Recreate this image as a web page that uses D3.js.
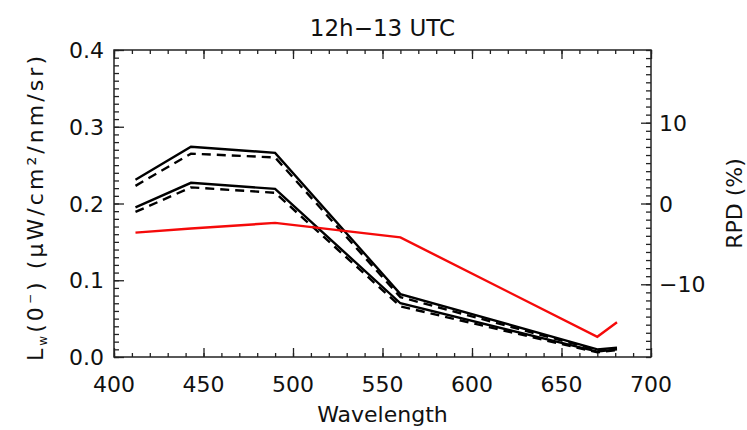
<!DOCTYPE html>
<html>
<head>
<meta charset="utf-8">
<script src="https://cdn.jsdelivr.net/npm/d3@7"></script>
<style>
  body { margin: 0; background: #fff; }
  text { font-family: "DejaVu Sans", sans-serif; fill: #111; }
</style>
</head>
<body>
<div id="chart"></div>
<script>
// wavelengths (nm) and the four radiance spectra
const wavelengths = [412, 443, 490, 560, 670, 681];
const solidUpper = [0.231, 0.274, 0.266, 0.082, 0.010, 0.012];
const dashUpper  = [0.223, 0.265, 0.260, 0.078, 0.009, 0.011];
const solidLower = [0.195, 0.227, 0.219, 0.070, 0.007, 0.010];
const dashLower  = [0.189, 0.221, 0.214, 0.066, 0.006, 0.009];
// relative percent difference, right axis
const rpd = [-3.6, -3.1, -2.4, -4.2, -16.5, -14.7];

const xTicks = [400, 450, 500, 550, 600, 650, 700];
const yTicks = [0.0, 0.1, 0.2, 0.3, 0.4];
const rTicks = [-10, 0, 10];

const width = 747, height = 430;
const margin = {top: 50, right: 96, bottom: 73, left: 114};

const svg = d3.select("#chart").append("svg")
    .attr("width", width)
    .attr("height", height);

const x = d3.scaleLinear().domain([400, 700]).range([margin.left, width - margin.right]);
const y = d3.scaleLinear().domain([0, 0.4]).range([height - margin.bottom, margin.top]);
const yr = d3.scaleLinear().domain([-19, 19]).range([height - margin.bottom, margin.top]);

const x0 = margin.left, x1 = width - margin.right;
const y0 = height - margin.bottom, y1 = margin.top;

// axes: ticks point inward, labels drawn separately
function ticks(g, axis) { g.call(axis); g.select(".domain").remove(); g.selectAll("line").attr("stroke", "#222").attr("stroke-width", 1.3); }

const xMinor = d3.range(400, 701, 10);
svg.append("g").attr("transform", `translate(0,${y0})`)
    .call(ticks, d3.axisTop(x).tickValues(xMinor).tickSize(4).tickFormat(""));
svg.append("g").attr("transform", `translate(0,${y0})`)
    .call(ticks, d3.axisTop(x).tickValues(xTicks).tickSize(9).tickFormat(""));
svg.append("g").attr("transform", `translate(0,${y1})`)
    .call(ticks, d3.axisBottom(x).tickValues(xMinor).tickSize(4).tickFormat(""));
svg.append("g").attr("transform", `translate(0,${y1})`)
    .call(ticks, d3.axisBottom(x).tickValues(xTicks).tickSize(9).tickFormat(""));

const yMinor = d3.range(0, 41).map(d => d / 100);
svg.append("g").attr("transform", `translate(${x0},0)`)
    .call(ticks, d3.axisRight(y).tickValues(yMinor).tickSize(5).tickFormat(""));
svg.append("g").attr("transform", `translate(${x0},0)`)
    .call(ticks, d3.axisRight(y).tickValues(yTicks).tickSize(10).tickFormat(""));

const rMinor = d3.range(-19, 20);
svg.append("g").attr("transform", `translate(${x1},0)`)
    .call(ticks, d3.axisLeft(yr).tickValues(rMinor).tickSize(5).tickFormat(""));
svg.append("g").attr("transform", `translate(${x1},0)`)
    .call(ticks, d3.axisLeft(yr).tickValues(rTicks).tickSize(10).tickFormat(""));

svg.append("rect")
    .attr("x", x0).attr("y", y1)
    .attr("width", x1 - x0).attr("height", y0 - y1)
    .attr("fill", "none").attr("stroke", "#222").attr("stroke-width", 1.5);

// tick labels
svg.selectAll(".xl").data(xTicks).enter().append("text")
    .attr("x", d => x(d)).attr("y", y0 + 35)
    .attr("text-anchor", "middle").attr("font-size", 22)
    .text(d => d);
svg.selectAll(".yl").data(yTicks).enter().append("text")
    .attr("x", x0 - 10).attr("y", d => y(d) + 8)
    .attr("text-anchor", "end").attr("font-size", 22)
    .text(d => d.toFixed(1));
svg.selectAll(".rl").data(rTicks).enter().append("text")
    .attr("x", x1 + 8).attr("y", d => yr(d) + 8)
    .attr("text-anchor", "start").attr("font-size", 22)
    .text(d => d < 0 ? "\u2212" + Math.abs(d) : d);

// lines
const pts = vals => vals.map((v, i) => [wavelengths[i], v]);
const line = d3.line().x(d => x(d[0])).y(d => y(d[1]));
const rline = d3.line().x(d => x(d[0])).y(d => yr(d[1]));

[[solidUpper, null], [dashUpper, "9,6"], [solidLower, null], [dashLower, "9,6"]].forEach(([vals, dash]) => {
    svg.append("path")
        .attr("d", line(pts(vals)))
        .attr("fill", "none").attr("stroke", "#000").attr("stroke-width", 2.4)
        .attr("stroke-dasharray", dash);
});
svg.append("path")
    .attr("d", rline(pts(rpd)))
    .attr("fill", "none").attr("stroke", "#f50a0a").attr("stroke-width", 2.4);

// titles
svg.append("text")
    .attr("x", (x0 + x1) / 2).attr("y", 36)
    .attr("text-anchor", "middle").attr("font-size", 23)
    .text("12h\u221213 UTC");
svg.append("text")
    .attr("x", (x0 + x1) / 2).attr("y", 422)
    .attr("text-anchor", "middle").attr("font-size", 22)
    .text("Wavelength");

const yl = svg.append("text")
    .attr("transform", `translate(43,${(y0 + y1) / 2 + 5}) rotate(-90)`)
    .attr("text-anchor", "middle").attr("font-size", 22)
    .attr("textLength", 305).attr("lengthAdjust", "spacing");
yl.append("tspan").text("L");
yl.append("tspan").attr("font-size", 12).attr("dy", 4).text("w");
yl.append("tspan").attr("dy", -4).text("(0");
yl.append("tspan").attr("font-size", 12).attr("dy", -9).text("\u2212");
yl.append("tspan").attr("dy", 9).text(")  (\u03bcW/cm\u00b2/nm/sr)");

svg.append("text")
    .attr("transform", `translate(742,${(y0 + y1) / 2}) rotate(-90)`)
    .attr("text-anchor", "middle").attr("font-size", 22)
    .text("RPD (%)");
</script>
</body>
</html>
